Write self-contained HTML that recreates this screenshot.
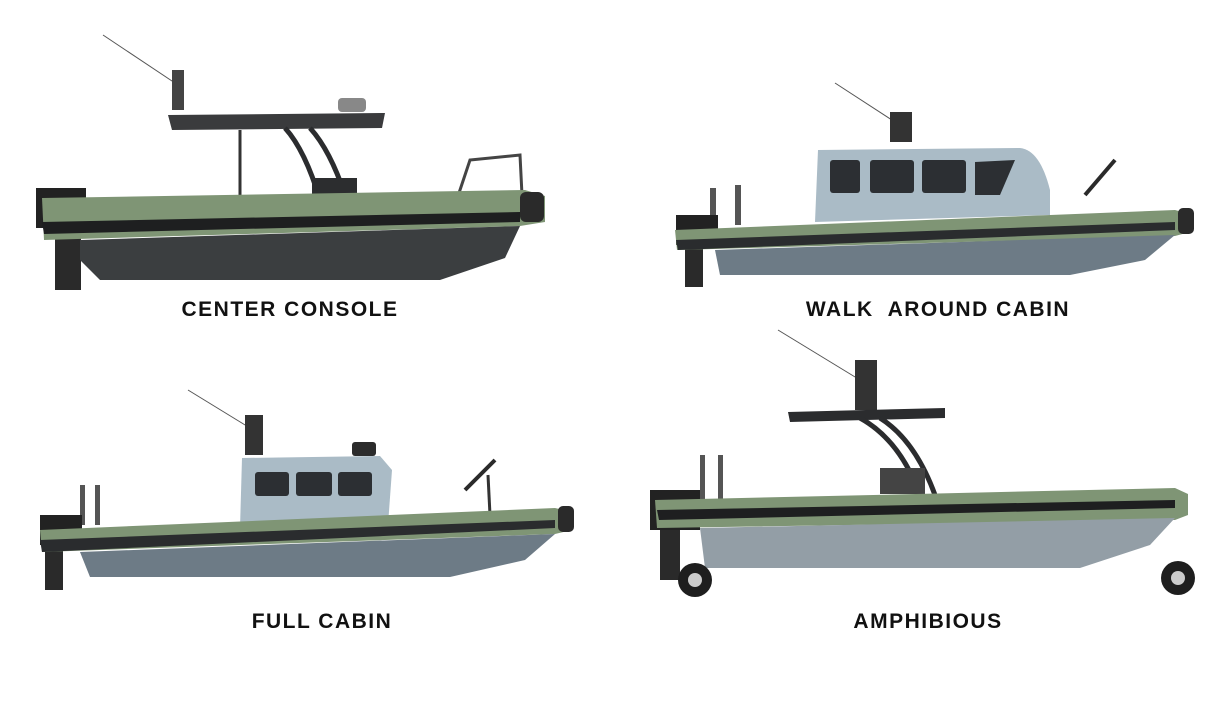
<!DOCTYPE html>
<html><head><meta charset="utf-8"><style>
html,body{margin:0;padding:0;background:#fff;}
svg{display:block}
text{font-family:"Liberation Sans",sans-serif;font-size:21px;letter-spacing:1.5px;fill:#111;font-weight:bold;}
</style></head><body>
<svg width="1224" height="720" viewBox="0 0 1224 720" xmlns="http://www.w3.org/2000/svg">
<rect width="1224" height="720" fill="#fff"/>

<!-- ===== Boat 1: Center console ===== -->
<g>
<line x1="103" y1="35" x2="178" y2="85" stroke="#555" stroke-width="1"/>
<rect x="172" y="70" width="12" height="40" fill="#444"/>
<rect x="338" y="98" width="28" height="14" rx="4" fill="#888"/>
<polygon points="168,115 385,113 382,128 172,130" fill="#3a3b3d"/>
<path d="M285 128 Q 305 150 320 200" stroke="#2b2c2e" stroke-width="5" fill="none"/>
<path d="M310 128 Q 330 150 345 195" stroke="#2b2c2e" stroke-width="5" fill="none"/>
<line x1="240" y1="130" x2="240" y2="200" stroke="#333" stroke-width="3"/>
<rect x="312" y="178" width="45" height="24" fill="#2c2d2f"/>
<path d="M455 205 L470 160 L520 155 L522 195" stroke="#444" stroke-width="3" fill="none"/>
<rect x="36" y="188" width="50" height="40" fill="#222"/>
<rect x="55" y="225" width="26" height="65" fill="#2a2a2a"/>
<polygon points="42,198 525,190 545,196 545,222 520,226 44,240" fill="#7f9575"/>
<polygon points="42,222 520,212 520,222 44,234" fill="#1e1f20"/>
<polygon points="80,240 520,226 505,258 440,280 100,280 80,260" fill="#3b3e40"/>
<rect x="520" y="192" width="24" height="30" rx="6" fill="#2a2a2a"/>
</g>

<!-- ===== Boat 2: Walk around cabin ===== -->
<g>
<line x1="835" y1="83" x2="895" y2="122" stroke="#555" stroke-width="1"/>
<rect x="890" y="112" width="22" height="30" fill="#333"/>
<path d="M818 150 L1020 148 Q1040 150 1050 190 L1050 215 L815 222 Z" fill="#aabbc6"/>
<rect x="830" y="160" width="30" height="33" rx="3" fill="#2c2f33"/>
<rect x="870" y="160" width="44" height="33" rx="3" fill="#2c2f33"/>
<rect x="922" y="160" width="44" height="33" rx="3" fill="#2c2f33"/>
<polygon points="975,162 1015,160 1000,195 975,195" fill="#2c2f33"/>
<path d="M1085 195 L1115 160" stroke="#2a2a2a" stroke-width="4"/>
<rect x="710" y="188" width="6" height="40" fill="#555"/>
<rect x="735" y="185" width="6" height="40" fill="#555"/>
<rect x="676" y="215" width="42" height="30" fill="#222"/>
<rect x="685" y="245" width="18" height="42" fill="#2a2a2a"/>
<polygon points="675,230 1175,210 1190,214 1190,232 1175,236 677,250" fill="#7f9575"/>
<polygon points="676,240 1175,222 1175,230 678,250" fill="#2a2c2e"/>
<polygon points="715,250 1175,235 1145,260 1070,275 720,275" fill="#6d7b86"/>
<rect x="1178" y="208" width="16" height="26" rx="5" fill="#2a2a2a"/>
</g>

<!-- ===== Boat 3: Full cabin ===== -->
<g>
<line x1="188" y1="390" x2="250" y2="428" stroke="#555" stroke-width="1"/>
<rect x="245" y="415" width="18" height="40" fill="#333"/>
<rect x="352" y="442" width="24" height="14" rx="3" fill="#2c2c2c"/>
<polygon points="242,458 380,456 392,470 388,525 240,528" fill="#aabbc6"/>
<rect x="255" y="472" width="34" height="24" rx="3" fill="#2c2f33"/>
<rect x="296" y="472" width="36" height="24" rx="3" fill="#2c2f33"/>
<rect x="338" y="472" width="34" height="24" rx="3" fill="#2c2f33"/>
<path d="M465 490 L495 460" stroke="#2a2a2a" stroke-width="4"/>
<line x1="488" y1="475" x2="490" y2="515" stroke="#333" stroke-width="3"/>
<rect x="80" y="485" width="5" height="40" fill="#555"/>
<rect x="95" y="485" width="5" height="40" fill="#555"/>
<rect x="40" y="515" width="42" height="30" fill="#222"/>
<rect x="45" y="545" width="18" height="45" fill="#2a2a2a"/>
<polygon points="40,530 555,508 572,512 572,530 555,534 42,552" fill="#7f9575"/>
<polygon points="40,540 555,520 555,528 42,552" fill="#2a2c2e"/>
<polygon points="80,552 555,534 525,560 450,577 90,577" fill="#6d7b86"/>
<rect x="558" y="506" width="16" height="26" rx="5" fill="#2a2a2a"/>
</g>

<!-- ===== Boat 4: Amphibious ===== -->
<g>
<line x1="778" y1="330" x2="860" y2="380" stroke="#555" stroke-width="1"/>
<rect x="855" y="360" width="22" height="50" fill="#333"/>
<polygon points="788,412 945,408 945,418 790,422" fill="#2b2c2e"/>
<path d="M860 418 Q 900 440 920 495" stroke="#2b2c2e" stroke-width="5" fill="none"/>
<path d="M880 418 Q 915 440 935 495" stroke="#2b2c2e" stroke-width="5" fill="none"/>
<rect x="880" y="468" width="45" height="26" fill="#444"/>
<rect x="700" y="455" width="5" height="45" fill="#555"/>
<rect x="718" y="455" width="5" height="45" fill="#555"/>
<rect x="650" y="490" width="50" height="40" fill="#222"/>
<rect x="660" y="530" width="20" height="50" fill="#2a2a2a"/>
<polygon points="655,500 1175,488 1188,494 1188,515 1175,520 657,528" fill="#7f9575"/>
<polygon points="657,510 1175,500 1175,508 659,520" fill="#1e1f20"/>
<polygon points="700,528 1175,518 1150,545 1080,568 705,568" fill="#939ea6"/>
<circle cx="695" cy="580" r="17" fill="#1e1e1e"/><circle cx="695" cy="580" r="7" fill="#ccc"/>
<circle cx="1178" cy="578" r="17" fill="#1e1e1e"/><circle cx="1178" cy="578" r="7" fill="#ccc"/>
</g>

<text x="290" y="316" text-anchor="middle">CENTER CONSOLE</text>
<text x="938" y="316" text-anchor="middle" xml:space="preserve">WALK  AROUND CABIN</text>
<text x="322" y="628" text-anchor="middle">FULL CABIN</text>
<text x="928" y="628" text-anchor="middle">AMPHIBIOUS</text>
</svg>
</body></html>
